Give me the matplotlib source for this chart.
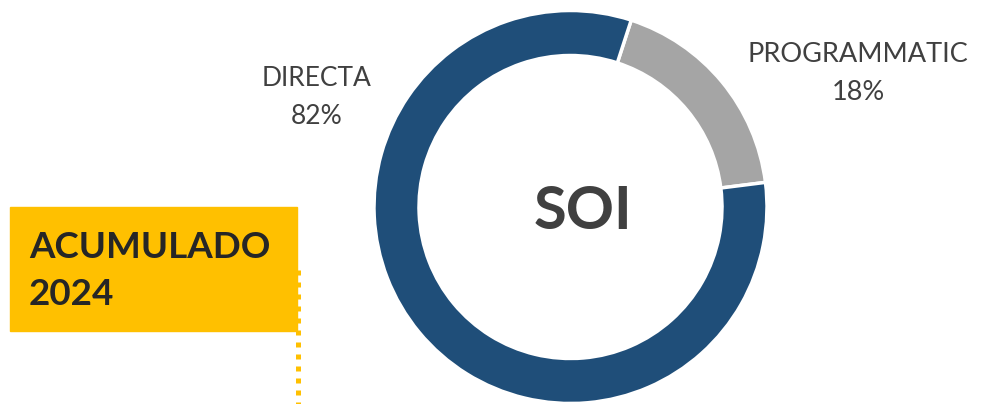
import matplotlib.pyplot as plt
from matplotlib.patches import Rectangle

# datos del grafico
labels = ['PROGRAMMATIC', 'DIRECTA']
values = [18, 82]
colors = ['#A5A5A5', '#1F4E79']
center_text = 'SOI'
box_text = 'ACUMULADO\n2024'

plt.rcParams['font.family'] = ['Lato', 'DejaVu Sans']

W, H = 986, 404
fig = plt.figure(figsize=(W / 100, H / 100), dpi=100)
ax = fig.add_axes([0, 0, 1, 1])

# anillo
cx, cy, r = 570.5, H - 207, 196.5
ax.pie(values, colors=colors, startangle=72, counterclock=False,
       center=(cx, cy), radius=r, frame=True,
       wedgeprops=dict(width=45, edgecolor='white', linewidth=2.5))
ax.set_xlim(0, W)
ax.set_ylim(0, H)
ax.set_aspect('equal')
ax.axis('off')

ax.text(cx + 13, cy - 5, center_text, ha='center', va='center',
        fontsize=43, fontweight='bold', color='#404040')

# etiquetas
ax.text(317, H - 98, f'{labels[1]}\n{values[1]}%', ha='center', va='center',
        fontsize=19, color='#404040', linespacing=1.65)
ax.text(858, H - 73, f'{labels[0]}\n{values[0]}%', ha='center', va='center',
        fontsize=19.5, color='#404040', linespacing=1.65)

# caja amarilla
ax.add_patch(Rectangle((10, H - 331), 287, 124, color='#FFC000', zorder=3))
ax.plot([297.5, 297.5], [H - 270, 0], color='#FFC000', lw=3.6,
        linestyle=(0, (1, 1.4)), dash_capstyle='butt', zorder=2)
ax.text(29, H - 271, box_text, ha='left', va='center', fontsize=26.5,
        fontweight='bold', color='#262626', linespacing=1.5, zorder=4)

fig.savefig('out.png', dpi=100)
